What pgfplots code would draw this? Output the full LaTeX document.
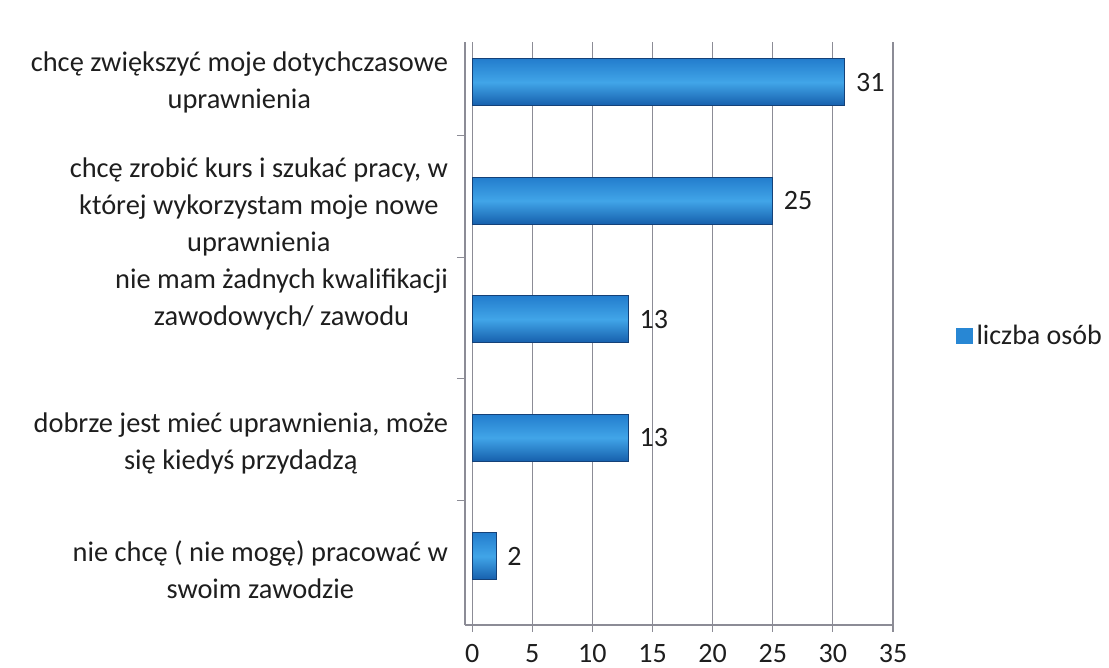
\documentclass[border=0pt]{standalone}
\usepackage{fontspec}
\setmainfont{Carlito}
\usepackage{pgfplots}
\pgfplotsset{compat=1.18}
\definecolor{bartop}{RGB}{35,125,205}
\definecolor{barmid}{RGB}{65,165,232}
\definecolor{barbot}{RGB}{22,95,172}
\definecolor{bardark}{RGB}{20,65,120}
\definecolor{legc}{RGB}{40,135,212}
\definecolor{gridc}{RGB}{140,140,150}
\definecolor{txt}{RGB}{30,30,30}
\begin{document}
\begin{tikzpicture}
\useasboundingbox (0,0) rectangle (554.5pt,334pt);
\begin{axis}[
  at={(232.5pt,21.5pt)}, anchor=south west,
  scale only axis, width=214pt, height=291.5pt,
  xbar, bar width=23.5pt, bar shift=0pt,
  xmin=-0.6, xmax=35, ymin=-0.58, ymax=4.34,
  xtick={0,5,...,35},
  xmajorgrids, grid style={gridc, line width=0.6pt},
  axis x line*=bottom, axis y line*=left,
  axis line style={gridc, line width=0.6pt},
  tick align=outside, major tick length=3.5pt,
  tick style={gridc, line width=0.6pt},
  /pgf/number format/assume math mode=true,
  xticklabel style={font=\fontsize{14}{16}\selectfont, text=txt, yshift=-2.5pt},
  ytick={-0.11,0.95,2.17,2.95,4.0},
  yticklabels={
    {nie chcę ( nie mogę) pracować w\\swoim zawodzie},
    {dobrze jest mieć uprawnienia, może\\się kiedyś przydadzą},
    {nie mam żadnych kwalifikacji\\zawodowych/ zawodu},
    {chcę zrobić kurs i szukać pracy, w\\której wykorzystam moje nowe\\uprawnienia},
    {chcę zwiększyć moje dotychczasowe\\uprawnienia}},
  yticklabel style={align=center, font=\fontsize{14.2}{18.5}\selectfont, text=txt, xshift=-1.5pt},
  major y tick style={draw=none},
  extra y ticks={0.47,1.5,2.52,3.55},
  extra y tick labels={},
  extra y tick style={major y tick style={draw=gridc, line width=0.6pt}, major tick length=4pt},
  nodes near coords,
  every node near coord/.append style={font=\fontsize{14}{16}\selectfont, text=txt, anchor=west, xshift=2pt},
  legend style={at={(1.133,0.496)}, anchor=west, draw=none, fill=none,
    font=\fontsize{14}{16}\selectfont, text=txt},
  legend cell align=left,
  legend image code/.code={\fill[draw=legc, top color=legc, bottom color=legc, middle color=legc] (0pt,-3.8pt) rectangle (7.6pt,3.8pt);},
  bstyle/.style={xbar, bar shift=0pt, draw=bardark, line width=0.5pt, top color=bartop, bottom color=barbot, middle color=barmid},
]
\addplot[bstyle] coordinates {(31,4)};
\addlegendentry{liczba osób}
\addplot[bstyle, forget plot] coordinates {(25,3)};
\addplot[bstyle, forget plot] coordinates {(13,2)};
\addplot[bstyle, forget plot] coordinates {(13,1)};
\addplot[bstyle, forget plot] coordinates {(2,0)};
\end{axis}
\end{tikzpicture}
\end{document}
